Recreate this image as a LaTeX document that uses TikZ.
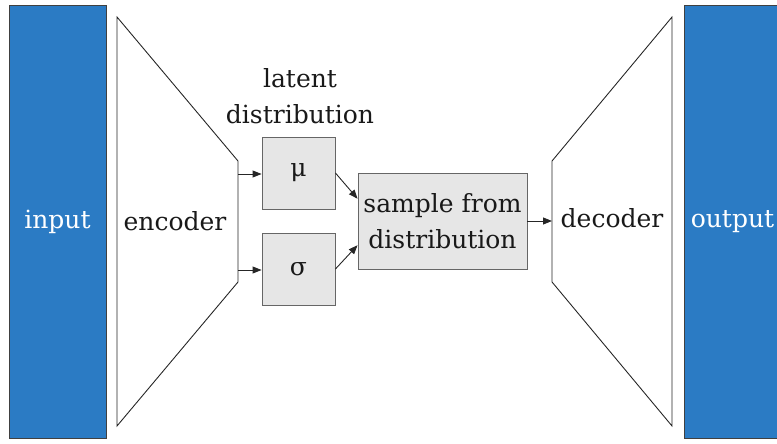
\documentclass[tikz,border=0pt]{standalone}
\usepackage{fontspec}
\setmainfont{DejaVu Serif}
\usetikzlibrary{calc,arrows.meta,positioning}
\definecolor{layerblue}{HTML}{2B7BC4}
\definecolor{boxgray}{HTML}{E6E6E6}
\tikzset{
    every node/.style={font=\fontsize{25}{36}\selectfont, text=black!90},
    layer/.style={draw=black!75, fill=layerblue, text=white, minimum width=97pt,
      minimum height=433pt, inner sep=0pt},
    param/.style={draw=black!60, fill=boxgray, minimum width=73pt, minimum height=72pt, inner sep=0pt},
    funnel/.style={draw=black!85, line width=0.9pt, line join=miter}
}

\begin{document}
\begin{tikzpicture}[x=1pt, y=-1pt, -{Triangle[length=9pt,width=7pt]}, line width=0.9pt]
  \useasboundingbox (0,0) rectangle (777,444);

  \node[layer] (input)  at (57.5,221.5) {input};
  \node[layer] (output) at (732.5,221.5) {output};

  % encoder and decoder
  \draw[funnel, -] (117,17) -- (238,161) -- (238,282) -- (117,426) -- cycle;
  \draw[funnel, -] (672,17) -- (552,161) -- (552,282) -- (672,426) -- cycle;
  \node (enc) at (175,221) {encoder};
  \node (dec) at (612,218) {decoder};
  \coordinate (enc mu)    at (238,174);
  \coordinate (enc sigma) at (238,270);
  \coordinate (dec in)    at (552,221);

  \node[param] (mu)    at (298.5,173) {μ};
  \node[param] (sigma) at (298.5,269) {σ};
  \node[align=center] (latent) at (300,96) {latent\\distribution};
  \node[param, minimum width=169pt, minimum height=96pt, align=center]
    (sample) at (442.5,221) {sample from\\distribution};

  \draw[black!85] (enc mu) -- (enc mu -| mu.west);
  \draw[black!85] (enc sigma) -- (enc sigma -| sigma.west);
  \draw[black!85] (mu.east) -- ($(sample.north west)!0.27!(sample.south west)$);
  \draw[black!85] (sigma.east) -- ($(sample.north west)!0.75!(sample.south west)$);
  \draw[black!85] (sample) -- (dec in);
\end{tikzpicture}
\end{document}
